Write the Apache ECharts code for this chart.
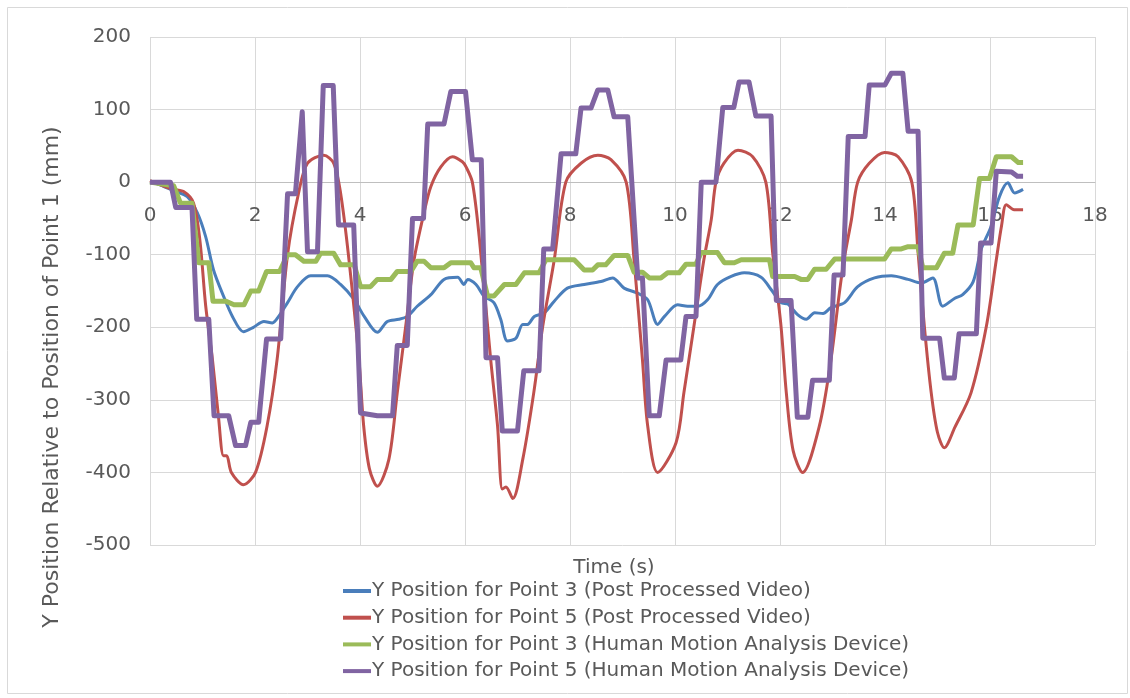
<!DOCTYPE html>
<html>
<head>
<meta charset="utf-8">
<script src="https://cdn.jsdelivr.net/npm/echarts@6/dist/echarts.min.js"></script>
<style>
html,body{margin:0;padding:0;background:#fff;}
#chart{width:1130px;height:698px;}
</style>
</head>
<body>
<div id="chart"></div>
<script>
var seriesNames = [
  "Y Position for Point 3 (Post Processed Video)",
  "Y Position for Point 5 (Post Processed Video)",
  "Y Position for Point 3 (Human Motion Analysis Device)",
  "Y Position for Point 5 (Human Motion Analysis Device)"
];
var xTicks = [0, 2, 4, 6, 8, 10, 12, 14, 16, 18];
var yTicks = [-500, -400, -300, -200, -100, 0, 100, 200];

var blueP3Video = [
  [0,0],[0.2,-4],[0.45,-12],[0.71,-20],[0.9,-42],[1.06,-75],[1.21,-121],[1.4,-157],[1.57,-185],[1.78,-206],
  [1.97,-200],[2.17,-192],[2.33,-194],[2.45,-185],[2.62,-166],[2.81,-144],[3.06,-129],[3.38,-129],[3.63,-141],
  [3.89,-162],[4.08,-185],[4.33,-207],[4.52,-192],[4.74,-189],[4.9,-185],[5.09,-171],[5.35,-155],[5.6,-134],
  [5.86,-131],[5.98,-141],[6.05,-134],[6.21,-141],[6.36,-157],[6.55,-166],[6.68,-189],[6.81,-219],[6.97,-215],
  [7.1,-196],[7.19,-196],[7.32,-185],[7.51,-180],[7.7,-164],[7.95,-146],[8.27,-141],[8.59,-137],[8.81,-132],
  [9.03,-146],[9.29,-153],[9.48,-162],[9.67,-196],[9.8,-185],[10.05,-169],[10.24,-171],[10.43,-171],[10.62,-162],
  [10.81,-141],[11.07,-130],[11.32,-125],[11.64,-131],[11.83,-148],[12.02,-166],[12.15,-168],[12.34,-183],
  [12.5,-189],[12.66,-180],[12.82,-181],[12.97,-173],[13.23,-166],[13.48,-144],[13.8,-132],[14.12,-129],
  [14.44,-134],[14.69,-139],[14.91,-132],[15.1,-171],[15.33,-160],[15.48,-155],[15.68,-137],[15.83,-93],
  [16.02,-61],[16.18,-20],[16.34,-1],[16.47,-15],[16.63,-10]
];

var redP5Video = [
  [0,2],[0.39,-9],[0.64,-13],[0.83,-29],[0.95,-80],[1.06,-170],[1.19,-245],[1.3,-320],[1.4,-377],[1.46,-377],
  [1.55,-400],[1.78,-417],[2.01,-400],[2.23,-336],[2.42,-245],[2.62,-100],[2.83,-15],[3.0,26],[3.31,37],
  [3.5,26],[3.63,-15],[3.79,-107],[3.98,-245],[4.07,-336],[4.18,-395],[4.33,-419],[4.55,-382],[4.71,-290],
  [4.87,-199],[5.03,-107],[5.22,-42],[5.35,-6],[5.54,21],[5.76,35],[5.95,28],[6.02,21],[6.14,0],[6.27,-75],
  [6.49,-245],[6.62,-336],[6.71,-423],[6.78,-420],[6.91,-436],[7.1,-382],[7.31,-290],[7.48,-199],[7.7,-107],
  [7.92,0],[8.21,26],[8.53,37],[8.78,31],[9.07,0],[9.22,-107],[9.38,-245],[9.48,-336],[9.67,-400],[10.02,-359],
  [10.17,-290],[10.36,-199],[10.55,-107],[10.69,-52],[10.78,0],[10.93,26],[11.2,44],[11.48,35],[11.73,0],
  [11.86,-97],[12.02,-199],[12.12,-290],[12.25,-370],[12.43,-400],[12.75,-336],[12.97,-245],[13.13,-153],
  [13.22,-107],[13.36,-52],[13.48,0],[13.7,26],[13.99,41],[14.25,35],[14.51,0],[14.63,-97],[14.75,-199],
  [14.88,-290],[15.0,-345],[15.13,-366],[15.33,-338],[15.64,-290],[15.93,-199],[16.12,-107],[16.22,-60],
  [16.31,-31],[16.46,-38],[16.63,-38]
];

var greenP3Device = [
  [0,0],[0.45,-5],[0.58,-29],[0.8,-29],[0.93,-111],[1.12,-111],[1.2,-164],[1.44,-164],[1.6,-169],[1.79,-169],
  [1.92,-150],[2.07,-150],[2.22,-123],[2.47,-123],[2.62,-100],[2.77,-100],[2.93,-109],[3.16,-109],[3.25,-98],
  [3.5,-98],[3.63,-114],[3.89,-114],[4.01,-144],[4.2,-144],[4.33,-134],[4.59,-134],[4.71,-123],[4.97,-123],
  [5.09,-109],[5.22,-109],[5.35,-118],[5.6,-118],[5.73,-111],[6.11,-111],[6.17,-118],[6.3,-118],[6.43,-157],
  [6.55,-157],[6.75,-141],[6.97,-141],[7.13,-125],[7.41,-125],[7.54,-107],[8.08,-107],[8.27,-121],[8.43,-121],
  [8.53,-114],[8.68,-114],[8.84,-101],[9.1,-101],[9.22,-124],[9.38,-124],[9.51,-132],[9.73,-132],[9.86,-125],
  [10.08,-125],[10.21,-113],[10.4,-113],[10.5,-97],[10.81,-97],[10.94,-111],[11.13,-111],[11.26,-107],
  [11.8,-107],[11.86,-130],[12.28,-130],[12.4,-134],[12.53,-134],[12.66,-120],[12.88,-120],[13.04,-106],
  [13.99,-106],[14.12,-92],[14.31,-92],[14.44,-89],[14.63,-89],[14.72,-118],[14.98,-118],[15.13,-98],
  [15.29,-98],[15.39,-59],[15.68,-59],[15.8,5],[15.99,5],[16.12,35],[16.41,35],[16.54,27],[16.63,27]
];

var purpleP5Device = [
  [0,0],[0.39,0],[0.49,-35],[0.8,-35],[0.89,-189],[1.12,-189],[1.22,-322],[1.5,-322],[1.63,-363],[1.82,-363],
  [1.92,-331],[2.07,-331],[2.22,-216],[2.49,-216],[2.62,-16],[2.77,-16],[2.9,97],[3.0,-96],[3.19,-96],
  [3.3,133],[3.49,133],[3.59,-59],[3.88,-59],[4.01,-318],[4.33,-322],[4.62,-322],[4.71,-225],[4.9,-225],
  [5.0,-50],[5.21,-50],[5.29,80],[5.6,80],[5.73,125],[6.01,125],[6.14,31],[6.31,31],[6.4,-242],[6.62,-242],
  [6.71,-343],[7.0,-343],[7.12,-260],[7.41,-260],[7.5,-92],[7.67,-92],[7.83,39],[8.11,39],[8.21,102],[8.4,102],
  [8.53,127],[8.72,127],[8.84,90],[9.1,90],[9.29,-132],[9.38,-132],[9.51,-322],[9.7,-322],[9.83,-245],
  [10.11,-245],[10.21,-185],[10.4,-185],[10.5,0],[10.78,0],[10.91,103],[11.12,103],[11.22,138],[11.41,138],
  [11.54,91],[11.83,91],[11.93,-163],[12.21,-163],[12.33,-324],[12.53,-324],[12.62,-273],[12.94,-273],
  [13.03,-128],[13.2,-128],[13.3,63],[13.62,63],[13.7,134],[14.0,134],[14.12,150],[14.34,150],[14.44,70],
  [14.63,70],[14.72,-215],[15.04,-215],[15.13,-270],[15.32,-270],[15.41,-209],[15.74,-209],[15.82,-84],
  [16.02,-84],[16.12,15],[16.41,14],[16.52,8],[16.63,8]
];

var colors = ['#4a7ebb', '#c0504d', '#9bbb59', '#8064a2'];
var widths = [3, 3, 5, 5];
var dataSets = [blueP3Video, redP5Video, greenP3Device, purpleP5Device];
var labelFont = '"DejaVu Sans", "Liberation Sans", Arial, sans-serif';

var gridTop = 37, gridBottom = 153, chartH = 698;
var plotH = chartH - gridTop - gridBottom;
var yMin = yTicks[0], yMax = yTicks[yTicks.length - 1];
// distance from bottom of plot up to the y=0 line
var zeroOffset = plotH * (0 - yMin) / (yMax - yMin);

var chart = echarts.init(document.getElementById('chart'), null, {renderer: 'canvas'});
var option = {
  animation: false,
  backgroundColor: '#ffffff',
  color: colors,
  grid: {left: 150, right: 35, top: gridTop, bottom: gridBottom, containLabel: false},
  xAxis: {
    type: 'value', min: xTicks[0], max: xTicks[xTicks.length - 1], interval: 2,
    position: 'bottom', offset: -zeroOffset,
    axisLine: {onZero: false, lineStyle: {color: '#bfbfbf', width: 1}},
    axisTick: {show: false},
    axisLabel: {color: '#595959', fontSize: 20, margin: 24, fontFamily: labelFont},
    splitLine: {show: true, lineStyle: {color: '#d9d9d9', width: 1}}
  },
  yAxis: {
    type: 'value', min: yMin, max: yMax, interval: 100,
    axisLine: {show: false},
    axisTick: {show: false},
    axisLabel: {color: '#595959', fontSize: 20, margin: 19, fontFamily: labelFont},
    splitLine: {show: true, lineStyle: {color: '#d9d9d9', width: 1}}
  },
  legend: {
    orient: 'vertical', left: 338, top: 576,
    itemWidth: 28, itemHeight: 4, itemGap: 6.7, icon: 'rect',
    textStyle: {color: '#595959', fontSize: 20, lineHeight: 20, fontFamily: labelFont, padding: [0, 0, 0, -4]},
    data: seriesNames
  },
  graphic: [
    {type: 'rect', left: 5, top: 5, shape: {width: 1120, height: 686},
     style: {fill: 'none', stroke: '#d9d9d9', lineWidth: 1}, silent: true},
    {type: 'text', x: 614, y: 568,
     style: {text: 'Time (s)', fill: '#595959', font: '20px ' + labelFont, textAlign: 'center', textVerticalAlign: 'middle'}},
    {type: 'text', x: 52, y: 377, rotation: Math.PI / 2,
     style: {text: 'Y Position Relative to Position of Point 1 (mm)', fill: '#595959',
             font: '22px ' + labelFont, textAlign: 'center', textVerticalAlign: 'middle'}}
  ],
  series: dataSets.map(function (d, i) {
    return {
      name: seriesNames[i], type: 'line', data: d, showSymbol: false, symbol: 'none',
      lineStyle: {color: colors[i], width: widths[i], join: 'round'},
      smooth: (i < 2) ? 0.3 : false, z: 2 + i
    };
  })
};
chart.setOption(option);
</script>
</body>
</html>
